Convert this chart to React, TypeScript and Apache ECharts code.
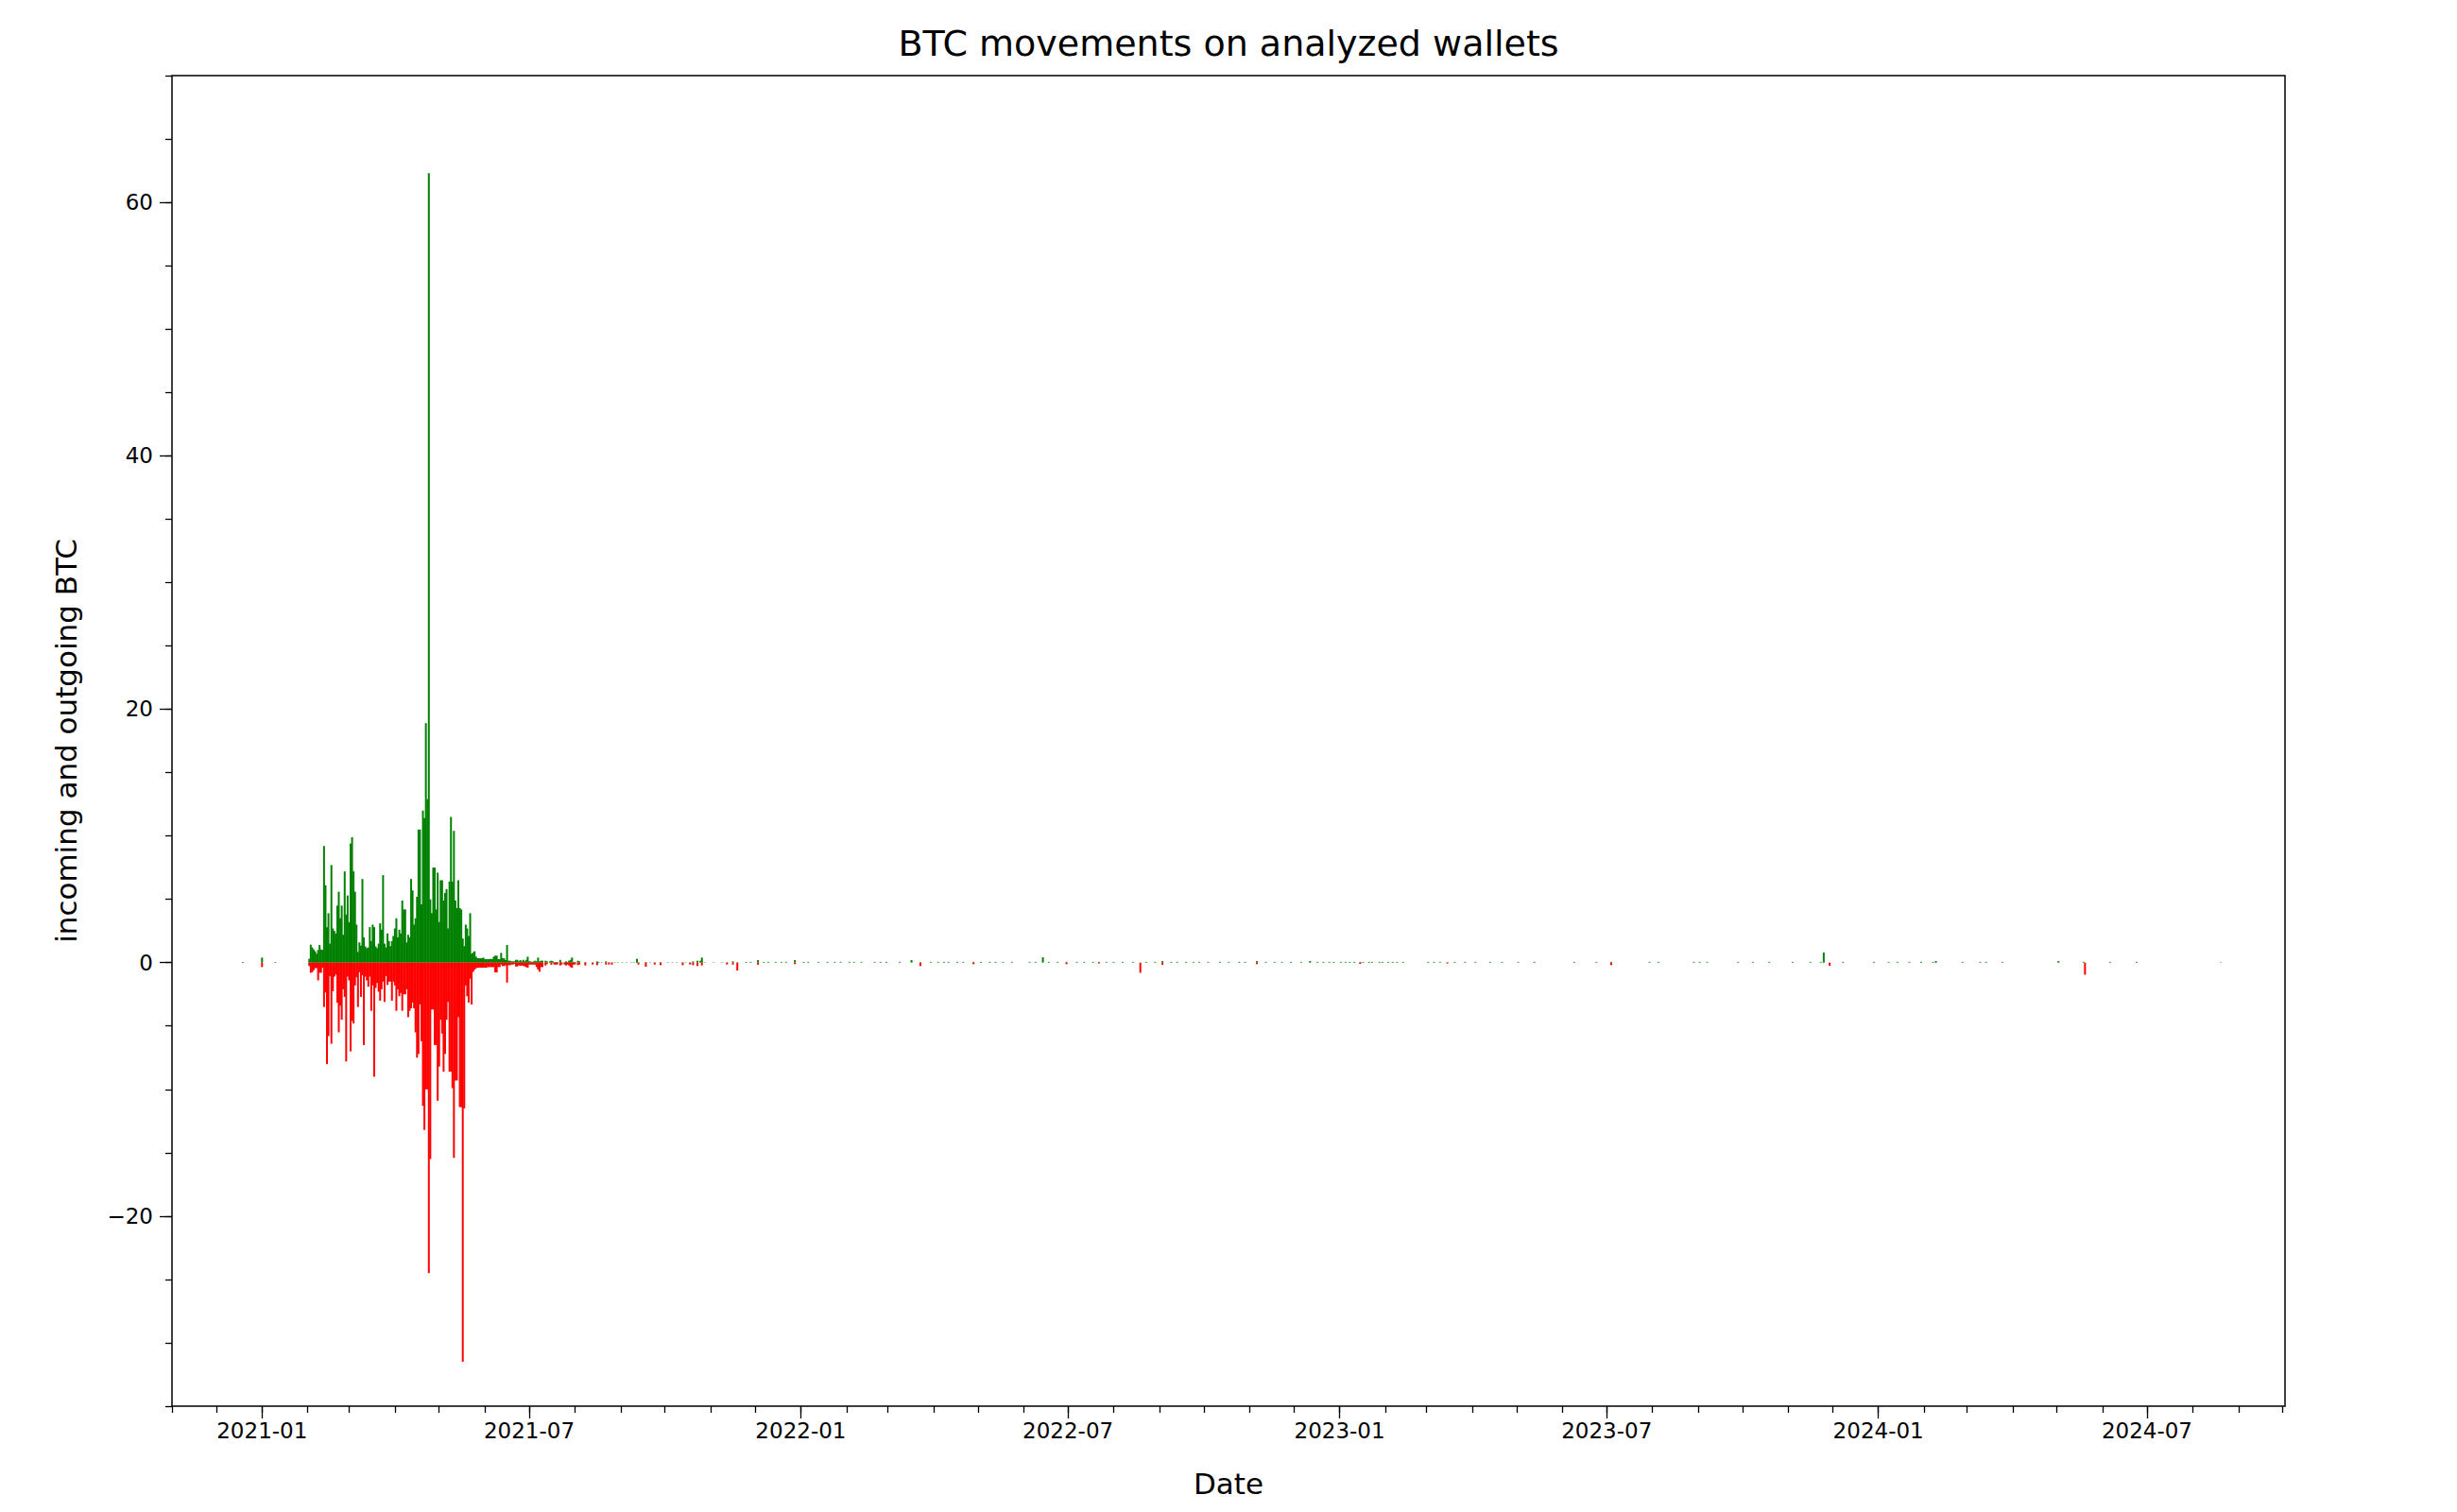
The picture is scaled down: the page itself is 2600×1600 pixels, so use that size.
import React, { useEffect, useRef } from 'react';
import * as echarts from 'echarts';

// ---------- DATA ----------
// Daily net movements during the busy period, starting at heavyStart (one value per day)
const heavyStart = '2021-02-02';
const heavyIn = [
  0.3, 1.42, 1.2, 1.04, 0.9, 0.7, 1.0, 1.4, 1.04, 1.0,
  9.2, 6.1, 2.8, 3.9, 1.5, 7.7, 2.7, 2.5, 2.3, 4.5,
  5.6, 3.5, 4.5, 2.2, 7.2, 3.8, 5.3, 3.2, 9.4, 9.9,
  7.2, 5.6, 3.0, 0.85, 1.6, 1.34, 6.6, 2.0, 1.27, 1.14,
  1.2, 2.8, 1.7, 3.0, 2.8, 1.27, 1.14, 1.5, 3.1, 2.6,
  6.9, 1.5, 1.2, 2.3, 1.7, 1.3, 1.7, 2.1, 2.7, 3.5,
  2.0, 2.6, 2.3, 4.9, 4.2, 4.2, 1.6, 2.2, 2.0, 6.6,
  5.7, 3.0, 3.5, 5.2, 10.5, 10.5, 4.6, 12.0, 11.4, 18.9,
  12.9, 62.3, 5.0, 3.9, 7.5, 7.5, 4.2, 7.1, 3.2, 6.5,
  6.5, 4.9, 5.5, 5.8, 2.7, 6.4, 11.5, 6.4, 10.4, 4.9,
  4.3, 6.5, 4.3, 4.2, 1.9, 1.3, 3.0, 2.7, 2.1, 3.9,
  0.7, 0.8, 0.9, 0.47, 0.35, 0.35, 0.35, 0.35, 0.4, 0.28,
  0.28, 0.28, 0.28, 0.3, 0.28, 0.47, 0.55, 0.55, 0.28, 0.28,
  0.77, 0.35, 0.35, 0.2, 1.4, 0.15, 0.15, 0.1, 0.1, 0.1,
  0.22, 0.22, 0.1, 0.2, 0.1, 0.22, 0.1, 0.22, 0.47, 0.1,
  0.1, 0.05, 0.1, 0.15, 0.1, 0.4, 0.1, 0.15, 0.15, 0,
  0.15, 0.1, 0, 0.1, 0.15, 0.1, 0.03, 0.05, 0.05, 0,
  0.22, 0.03, 0, 0.05, 0.1, 0.05, 0.15, 0.22, 0.4, 0.05,
  0.05, 0, 0.15, 0.1,
];
const heavyOut = [
  -0.27, -0.8, -0.76, -0.6, -0.43, -0.43, -1.4, -0.8, -0.8, -0.4,
  -3.5, -2.35, -8.0, -5.8, -1.06, -6.4, -2.25, -1.1, -0.93, -3.15,
  -5.5, -3.4, -4.5, -2.1, -2.7, -7.8, -1.1, -1.4, -7.0, -4.6,
  -4.8, -1.8, -1.16, -3.5, -0.76, -2.7, -1.0, -6.5, -1.1, -1.4,
  -1.9, -1.1, -3.8, -1.8, -9.0, -2.0, -1.6, -2.3, -3.0, -2.1,
  -1.5, -3.1, -1.06, -1.76, -1.5, -1.5, -3.0, -1.5, -1.8, -3.8,
  -2.1, -2.65, -2.4, -3.8, -2.5, -2.5, -2.1, -4.3, -3.8, -3.6,
  -3.15, -3.6, -5.5, -7.5, -7.2, -3.3, -6.2, -11.3, -13.2, -10.0,
  -10.0, -24.5, -15.5, -3.7, -3.7, -6.5, -6.5, -10.9, -8.2, -4.5,
  -5.6, -8.6, -7.2, -4.5, -3.1, -8.6, -8.6, -9.9, -15.4, -9.3,
  -9.3, -4.3, -11.4, -11.4, -31.5, -11.5, -1.8, -2.65, -3.15, -1.26,
  -3.3, -0.73, -0.56, -0.45, -0.4, -0.4, -0.4, -0.4, -0.4, -0.4,
  -0.4, -0.35, -0.35, -0.35, -0.35, -0.35, -0.77, -0.77, -0.35, -0.35,
  -0.15, -0.27, -0.27, -0.2, -1.57, -0.2, -0.2, -0.15, -0.15, -0.1,
  -0.3, -0.3, -0.22, -0.25, -0.22, -0.25, -0.3, -0.35, -0.4, -0.15,
  -0.15, -0.15, -0.15, -0.15, -0.35, -0.55, -0.72, -0.35, -0.35, 0,
  -0.22, -0.12, 0, 0, -0.17, 0, -0.15, -0.15, -0.15, 0,
  -0.22, -0.15, 0, -0.15, -0.22, -0.15, -0.22, -0.35, -0.4, -0.15,
  -0.15, 0, -0.2, -0.15,
];

// Scattered small movements outside the busy period
const sparseDates = [
  '2020-12-19', '2021-01-01', '2021-01-10',
  '2021-08-08', '2021-08-13', '2021-08-16', '2021-08-17', '2021-08-19', '2021-08-22', '2021-08-24', '2021-08-26', '2021-08-28', '2021-08-30',
  '2021-09-02', '2021-09-05', '2021-09-08', '2021-09-10', '2021-09-12', '2021-09-13', '2021-09-18', '2021-09-21', '2021-09-24', '2021-09-28',
  '2021-10-03', '2021-10-06', '2021-10-09', '2021-10-13', '2021-10-15', '2021-10-18', '2021-10-20', '2021-10-23', '2021-10-25', '2021-10-26', '2021-10-28',
  '2021-11-03', '2021-11-09', '2021-11-12', '2021-11-16', '2021-11-19', '2021-11-25', '2021-11-28',
  '2021-12-03', '2021-12-07', '2021-12-10', '2021-12-15', '2021-12-19', '2021-12-22', '2021-12-28',
  '2022-01-03', '2022-01-06', '2022-01-13', '2022-01-19', '2022-01-24', '2022-01-28',
  '2022-02-03', '2022-02-06', '2022-02-11', '2022-02-20', '2022-02-24', '2022-02-28',
  '2022-03-09', '2022-03-17', '2022-03-23', '2022-03-30',
  '2022-04-04', '2022-04-08', '2022-04-11', '2022-04-17', '2022-04-21', '2022-04-28',
  '2022-05-03', '2022-05-09', '2022-05-13', '2022-05-18', '2022-05-24',
  '2022-06-05', '2022-06-09', '2022-06-14', '2022-06-18', '2022-06-24', '2022-06-30',
  '2022-07-07', '2022-07-12', '2022-07-18', '2022-07-22', '2022-07-27',
  '2022-08-01', '2022-08-07', '2022-08-14', '2022-08-19', '2022-08-23', '2022-08-29',
  '2022-09-03', '2022-09-09', '2022-09-13', '2022-09-19', '2022-09-24', '2022-09-28',
  '2022-10-04', '2022-10-12', '2022-10-18', '2022-10-25', '2022-10-29',
  '2022-11-06', '2022-11-12', '2022-11-18', '2022-11-23', '2022-11-29',
  '2022-12-06', '2022-12-12', '2022-12-17', '2022-12-21', '2022-12-25', '2022-12-28',
  '2023-01-02', '2023-01-05', '2023-01-08', '2023-01-11', '2023-01-15', '2023-01-17', '2023-01-21', '2023-01-23', '2023-01-28', '2023-01-30',
  '2023-02-03', '2023-02-06', '2023-02-09', '2023-02-13',
  '2023-03-02', '2023-03-06', '2023-03-10', '2023-03-15', '2023-03-20', '2023-03-27',
  '2023-04-03', '2023-04-13', '2023-04-21',
  '2023-05-02', '2023-05-13',
  '2023-06-09', '2023-06-24',
  '2023-07-04', '2023-07-30',
  '2023-08-05', '2023-08-29',
  '2023-09-02', '2023-09-07', '2023-09-28',
  '2023-10-08', '2023-10-19',
  '2023-11-04', '2023-11-16', '2023-11-23', '2023-11-25', '2023-11-29',
  '2023-12-08', '2023-12-29',
  '2024-01-08', '2024-01-14', '2024-01-22', '2024-01-30',
  '2024-02-07', '2024-02-09', '2024-02-27',
  '2024-03-10', '2024-03-14', '2024-03-25',
  '2024-05-02', '2024-05-19', '2024-05-20',
  '2024-06-06', '2024-06-24',
  '2024-08-20',
];
const sparseIn = [
  0.05, 0.4, 0.05,
  0.05, 0.03, 0.1, 0.05, 0.03, 0.1, 0.03, 0.03, 0.03, 0.03,
  0.03, 0.03, 0.03, 0.03, 0.3, 0.03, 0.05, 0.03, 0.03, 0.05,
  0.03, 0.03, 0.03, 0.03, 0.03, 0.03, 0.1, 0.15, 0.15, 0.4, 0.03,
  0.03, 0.03, 0.03, 0.1, 0.03, 0.06, 0.06,
  0.2, 0.06, 0.06, 0.06, 0.06, 0.06, 0.2,
  0.06, 0.06, 0.06, 0.06, 0.06, 0.06,
  0.06, 0.06, 0.06, 0.06, 0.06, 0.06,
  0.06, 0.2, 0.03, 0.06,
  0.06, 0.06, 0.06, 0.06, 0.06, 0.06,
  0.06, 0.06, 0.06, 0.06, 0.06,
  0.06, 0.06, 0.42, 0.06, 0.06, 0.06,
  0.06, 0.06, 0.06, 0.06, 0.06,
  0.06, 0.06, 0.06, 0, 0.06, 0.06,
  0.12, 0.06, 0.06, 0.06, 0.06, 0.06,
  0.06, 0.06, 0.06, 0.06, 0.06,
  0.12, 0.06, 0.06, 0.06, 0.06,
  0.06, 0.12, 0.06, 0.06, 0.06, 0.06,
  0.06, 0.06, 0.06, 0.06, 0.06, 0.06, 0.06, 0.06, 0.06, 0.06,
  0.06, 0.06, 0.06, 0.06,
  0.06, 0.06, 0.06, 0.03, 0.06, 0.06,
  0.06, 0.06, 0.06,
  0.06, 0.06,
  0.06, 0.06,
  0.06, 0.06,
  0.06, 0.06,
  0.06, 0.06, 0.06,
  0.06, 0.06,
  0.06, 0.06, 0.06, 0.8, 0,
  0.06, 0.06,
  0.06, 0.06, 0.06, 0.06,
  0.06, 0.12, 0.06,
  0.06, 0.06, 0.06,
  0.12, 0.06, 0,
  0.06, 0.06,
  0.03,
];
const sparseOut = [
  0, -0.35, 0,
  -0.22, -0.15, -0.2, 0, 0, -0.15, -0.15, -0.15, 0, 0,
  0, 0, 0, 0, 0, -0.15, -0.32, 0, -0.15, -0.2,
  0, 0, 0, -0.2, 0, -0.15, -0.2, -0.27, 0, -0.22, 0,
  0, 0, -0.15, -0.15, -0.62, 0, 0,
  -0.17, 0, 0, 0, 0, 0, -0.12,
  0, 0, 0, 0, 0, 0,
  0, 0, 0, 0, 0, 0,
  0, 0, -0.27, 0,
  0, 0, 0, 0, 0, -0.12,
  0, 0, 0, 0, 0,
  0, 0, 0, 0, 0, -0.12,
  0, 0, 0, -0.07, 0,
  0, 0, 0, -0.8, 0, 0,
  -0.17, 0, 0, 0, 0, 0,
  0, 0, 0, 0, 0,
  -0.12, 0, 0, 0, 0,
  0, 0, 0, 0, 0, 0,
  0, 0, 0, 0, -0.1, 0, 0, 0, 0, 0,
  0, 0, 0, 0,
  0, 0, 0, -0.07, 0, 0,
  0, 0, 0,
  0, 0,
  0, 0,
  -0.2, 0,
  0, 0,
  0, 0, 0,
  0, 0,
  0, 0, 0, 0, -0.25,
  0, 0,
  0, 0, 0, 0,
  0, 0, 0,
  0, 0, 0,
  0, 0, -0.95,
  0, 0,
  0,
];

// Axis ticks
const yMajorTicks = [-20, 0, 20, 40, 60];
const yMinorTicks = [-35, -30, -25, -20, -15, -10, -5, 0, 5, 10, 15, 20, 25, 30, 35, 40, 45, 50, 55, 60, 65, 70];
const yRange = [-35, 70];
const xMajorTicks = ['2021-01', '2021-07', '2022-01', '2022-07', '2023-01', '2023-07', '2024-01', '2024-07'];
const xRange = ['2020-11-01', '2024-10-02'];

const titleText = 'BTC movements on analyzed wallets';
const xLabelText = 'Date';
const yLabelText = 'incoming and outgoing BTC';

// ---------- HELPERS ----------
function toTs(s: string): number {
  const p = s.split('-').map(Number);
  return new Date(p[0], p[1] - 1, p[2] || 1).getTime();
}
function addDays(s: string, n: number): number {
  const p = s.split('-').map(Number);
  return new Date(p[0], p[1] - 1, p[2] + n).getTime();
}
function fmtMonth(v: number): string {
  const d = new Date(v);
  return d.getFullYear() + '-' + String(d.getMonth() + 1).padStart(2, '0');
}
function fmtY(v: number): string {
  return v < 0 ? '\u2212' + Math.abs(v) : String(v);
}

const FONT = 'DejaVu Sans';

export default function App() {
  const ref = useRef<HTMLDivElement>(null);

  useEffect(() => {
    if (!ref.current) return;
    const chart = echarts.init(ref.current, undefined, { renderer: 'svg' });

    const inData: [number, number][] = [];
    const outData: [number, number][] = [];
    heavyIn.forEach((v, i) => {
      if (v > 0) inData.push([addDays(heavyStart, i), v]);
    });
    heavyOut.forEach((v, i) => {
      if (v < 0) outData.push([addDays(heavyStart, i), v]);
    });
    sparseDates.forEach((d, i) => {
      if (sparseIn[i] > 0) inData.push([toTs(d), sparseIn[i]]);
      if (sparseOut[i] < 0) outData.push([toTs(d), sparseOut[i]]);
    });

    const xMin = toTs(xRange[0]);
    const xMax = toTs(xRange[1]) + 12 * 3600 * 1000;
    const xMajorTs = xMajorTicks.map(toTs);
    const xMinorTs: number[] = [];
    {
      const a = new Date(xMin);
      let y = a.getFullYear();
      let m = a.getMonth();
      while (true) {
        const t = new Date(y, m, 1).getTime();
        if (t > xMax) break;
        xMinorTs.push(t);
        m++;
        if (m > 11) { m = 0; y++; }
      }
    }

    const tickLine = { color: '#000', width: 1.3 };
    const labelStyle = { color: '#000', fontSize: 23, fontFamily: FONT };

    const option: any = {
      animation: false,
      backgroundColor: '#ffffff',
      grid: {
        left: 182, right: 182, top: 80, bottom: 112,
        show: true, borderColor: '#000', borderWidth: 1.5, backgroundColor: 'rgba(0,0,0,0)',
      },
      xAxis: [
        {
          type: 'value', min: xMin, max: xMax, position: 'bottom', scale: true,
          axisLine: { show: false, onZero: false },
          splitLine: { show: false },
          axisTick: { show: true, customValues: xMajorTs, length: 13, lineStyle: tickLine },
          axisLabel: { show: true, customValues: xMajorTs, formatter: (v: number) => fmtMonth(v), margin: 14, ...labelStyle },
        },
        {
          type: 'value', min: xMin, max: xMax, position: 'bottom', scale: true,
          axisLine: { show: false, onZero: false },
          splitLine: { show: false },
          axisTick: { show: true, customValues: xMinorTs, length: 7, lineStyle: tickLine },
          axisLabel: { show: false },
        },
      ],
      yAxis: [
        {
          type: 'value', min: yRange[0], max: yRange[1], position: 'left',
          axisLine: { show: false, onZero: false },
          splitLine: { show: false },
          axisTick: { show: true, customValues: yMajorTicks, length: 13, lineStyle: tickLine },
          axisLabel: { show: true, customValues: yMajorTicks, formatter: (v: number) => fmtY(v), margin: 20, ...labelStyle },
        },
        {
          type: 'value', min: yRange[0], max: yRange[1], position: 'left',
          axisLine: { show: false, onZero: false },
          splitLine: { show: false },
          axisTick: { show: true, customValues: yMinorTicks, length: 7, lineStyle: tickLine },
          axisLabel: { show: false },
        },
      ],
      series: [
        {
          type: 'bar', name: 'incoming', data: inData,
          xAxisIndex: 0, yAxisIndex: 0,
          barWidth: 2, barGap: '-100%',
          itemStyle: { color: '#008000' },
        },
        {
          type: 'bar', name: 'outgoing', data: outData,
          xAxisIndex: 0, yAxisIndex: 0,
          barWidth: 2, barGap: '-100%',
          itemStyle: { color: '#ff0000' },
        },
      ],
      graphic: [
        {
          type: 'text', x: 1300, y: 46,
          style: {
            text: titleText, fontSize: 38, fontFamily: FONT, fill: '#000',
            align: 'center', verticalAlign: 'middle', textAlign: 'center', textVerticalAlign: 'middle',
          },
        },
        {
          type: 'text', x: 1300, y: 1570,
          style: {
            text: xLabelText, fontSize: 31, fontFamily: FONT, fill: '#000',
            align: 'center', verticalAlign: 'middle', textAlign: 'center', textVerticalAlign: 'middle',
          },
        },
        {
          type: 'text', x: 70, y: 784, rotation: Math.PI / 2,
          style: {
            text: yLabelText, fontSize: 31, fontFamily: FONT, fill: '#000',
            align: 'center', verticalAlign: 'middle', textAlign: 'center', textVerticalAlign: 'middle',
          },
        },
      ],
    };

    chart.setOption(option);
    return () => chart.dispose();
  }, []);

  return (
    <div
      ref={ref}
      style={{ position: 'fixed', left: 0, top: 0, width: 2600, height: 1600, background: '#fff' }}
    />
  );
}
